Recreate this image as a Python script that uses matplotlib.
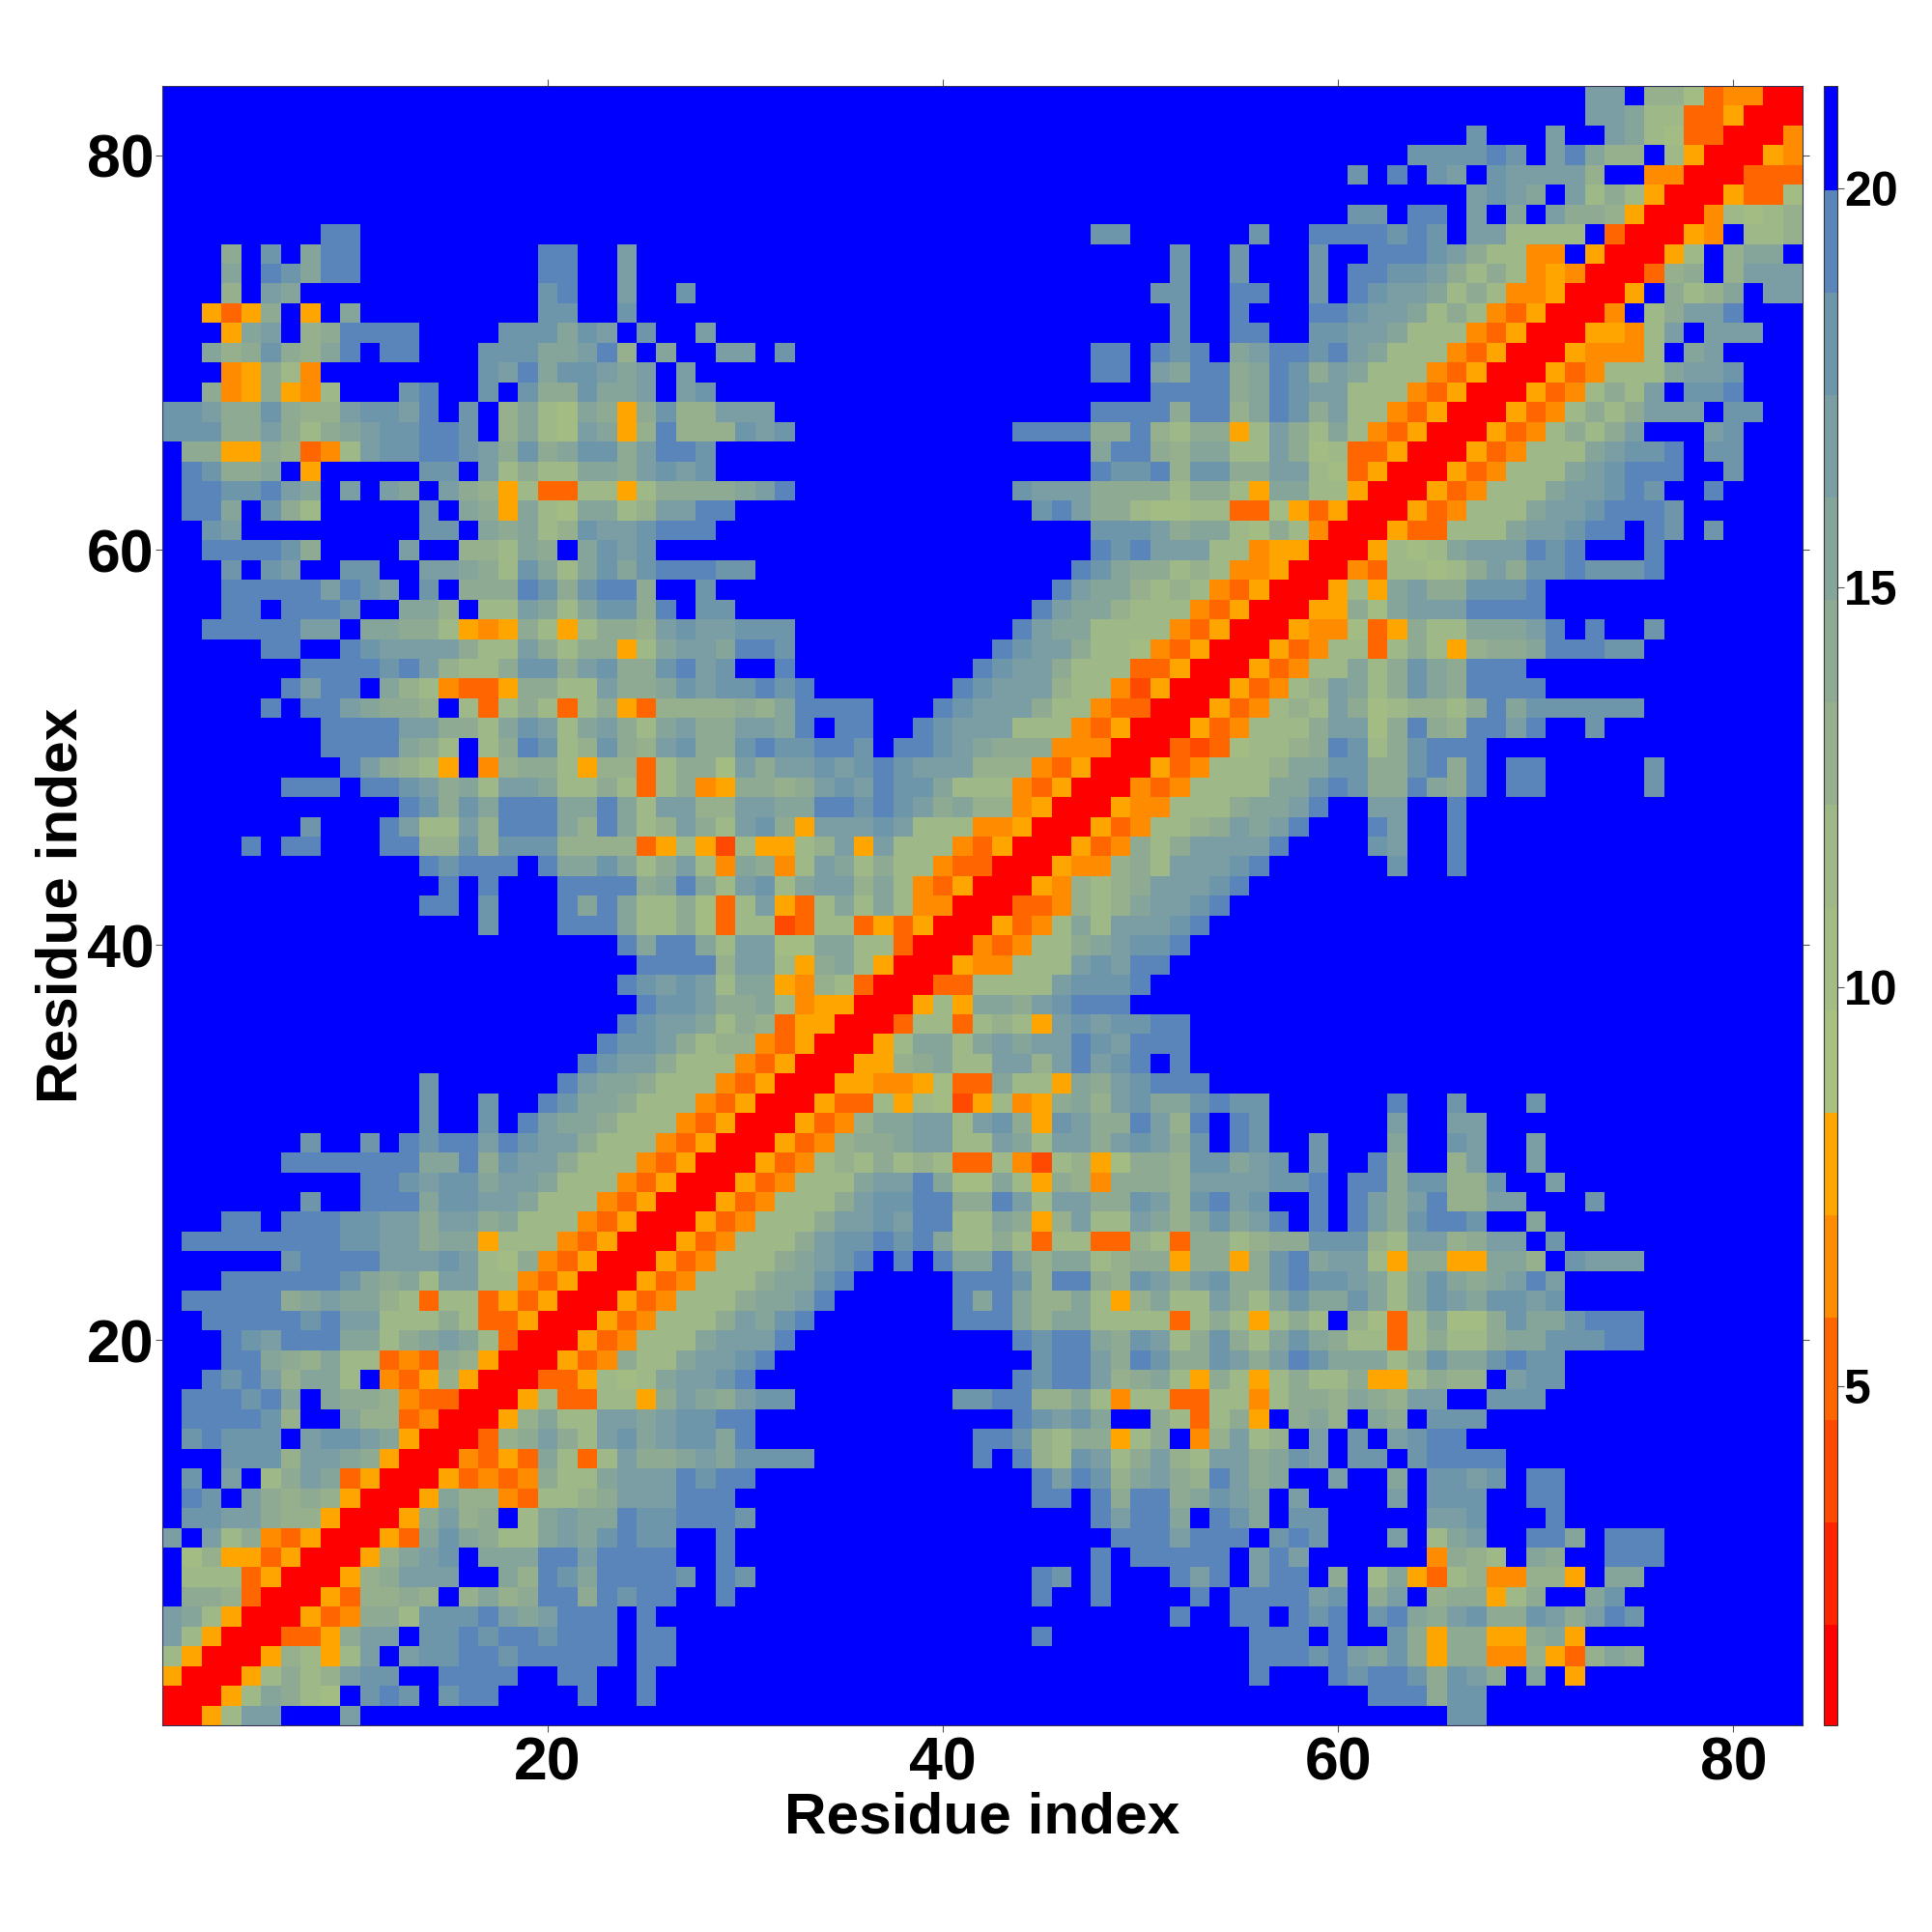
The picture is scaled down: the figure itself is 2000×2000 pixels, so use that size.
import numpy as np
import matplotlib
matplotlib.use("Agg")
import matplotlib.pyplot as plt
from matplotlib.colors import ListedColormap, BoundaryNorm

plt.rcParams['font.family'] = ['Liberation Sans', 'DejaVu Sans']
plt.rcParams['font.weight'] = 'bold'

N_RESIDUES = 83
DIST_MIN = 0.76
DIST_STEP = 1.2825
BAND_COLORS = ["#ff0000", "#ff2400", "#ff4800", "#ff6600", "#ff8c00", "#ffa500",
               "#a8c080", "#a3bc83", "#9fb887", "#96b08d", "#8eaa93", "#85a49a",
               "#7a9ea3", "#6d96ab", "#5a85bb", "#0000ff"]
X_TICKS = [20, 40, 60, 80]
Y_TICKS = [20, 40, 60, 80]
CBAR_TICKS = [5, 10, 15, 20]
AXIS_LABEL = "Residue index"

# Distance band per residue pair (hex digit = band index); row -> (first column, bands)
ROWS_TOP = {
    83: [(73, "ccf99734400")],
    82: [(73, "ccb8833500")],
    81: [(67, "d"), (71, "c"), (74, "cb873300")],
    80: [(64, "ddddedfceb99f8500")],
    79: [(61, "dfefdcfdcccc9ff4400")],
    78: [(67, "cdcbfc8a8500")],
    77: [(61, "ddfeefcfbfcaa9500")],
    76: [(9, "ee"), (48, "dd"), (56, "dffeeeededfcc8888f300")],
    75: [(4, "afdfbee"), (20, "ee"), (24, "c"), (52, "d"), (55, "d"), (59, "dffeeedca8844f500")],
    74: [(4, "bfedbee"), (20, "ee"), (24, "c"), (52, "d"), (55, "d"), (59, "dfeeddca8a845400")],
    73: [(4, "9fcb"), (20, "de"), (24, "c"), (27, "d"), (51, "dd"), (55, "ee"), (59, "dfedccb8a844500")],
    72: [(3, "535af5fb"), (20, "dd"), (24, "d"), (52, "d"), (55, "e"), (59, "eedccb8a843500")],
    71: [(4, "5bcf9aeeee"), (18, "dddbdcfd"), (28, "c"), (52, "d"), (55, "ee"), (59, "ddccb88843500")],
    70: [(3, "b9ada9befee"), (17, "dddbbce9fb"), (29, "ccfd"), (48, "ee"), (51, "edefbceedecb88843500")],
    69: [(4, "45a84"), (17, "dcebddcbcfc"), (48, "ee"), (51, "cbeeabedacb88843500")],
    68: [(3, "a45a548"), (13, "de"), (17, "dfdaadbbcfcd"), (51, "eeeeabedcc88843500")],
    67: [(1, "ddcaada99cddcefdf9b87ba5ad99ccc"), (48, "eeeeaee9bedac8843500")],
    66: [(1, "dddaaca8abcddeedf9b87cb59e999dcd"), (44, "eeeeaae98aa58ca8b843500")],
    65: [(2, "aa55a9348cddeedcadabddaceed"), (48, "beea9bb88ca7833500")],
    64: [(2, "edaabf5"), (14, "ddfc8a88bbacdcd"), (48, "edde9ddaacc873500")],
    63: [(2, "eeddecbfcfcbfca958338858aaaabce"), (44, "dcccaaaa8aa85bb88500")],
    62: [(2, "eebfda8"), (14, "d"), (16, "ba5b87bb89ccee"), (45, "decaa8778833753500")],
    61: [(3, "dc"), (14, "dd"), (17, "bab89dccdeee"), (48, "dddcabb87a8400")],
    60: [(3, "eeeeda"), (13, "c"), (16, "998bafbdcd"), (48, "edeccc8845500")],
    59: [(4, "dfdc"), (10, "dd"), (14, "ccba8db8bdbdeeedd"), (47, "edbaa89844500")],
    58: [(4, "eeeeecedc"), (14, "d"), (16, "aaaedadeea"), (28, "d"), (46, "ecbb989843500")],
    57: [(4, "eefeeed"), (13, "bb9f88cb8bddaefdd"), (45, "ecbb988843500")],
    56: [(3, "eeeeeccfbbaa8545a858aa9cdccddd"), (44, "ecbb888843500")],
}
ROWS_MIDDLE = {
    55: [(6, "eeffedcccca88ca8aa58bccbeed"), (43, "edcca88743500")],
    54: [(8, "eeeedec988addacdaadecd"), (32, "e"), (42, "edcca88833500")],
    53: [(7, "eceefb984335aa88caabdcddede"), (41, "edccc98842500")],
    52: [(6, "efeecbaa9f838a838a539999a9beeee"), (40, "edccca8843300")],
    51: [(9, "eeeeccaa8bdc8bca8bcaaccbefee"), (39, "edccc88843500")],
    50: [(9, "eeeeba8f8aed89da9cdaadeddeed"), (38, "eedcbaaa44400")],
    49: [(10, "eca985f49aa859938aa7caccdcdedccc99943500")],
    48: [(7, "eeefeedcab8ccb88a838a45aa9acdceddb88843500")],
    47: [(13, "edadbeeebbeb8cc99ccbbeededcab994500")],
    46: [(8, "d"), (12, "ec88c9eeeb9eb89ca8cda5cccdc88844500")],
    45: [(5, "e"), (7, "ee"), (12, "ee99d9ddd99993585285589c5c88843500")],
    44: [(14, "edeeefebbdb8ac84ba48cb8a8843300")],
    43: [(15, "efefffeeeeabeb8cd8bcc9b843500")],
    42: [(14, "eefdfffebeb88a738c538b8b84400")],
    41: [(17, "d"), (21, "eeeb88a73882388353500")],
    40: [(24, "ebeeb8cc77bb88300")],
    39: [(25, "eeee9cc85ab8500")],
    38: [(24, "edcdc8bb5498300")],
    37: [(25, "eddcaab845500")],
    36: [(24, "edccb8a935500")],
    35: [(23, "eddca89943500")],
    34: [(22, "edcca88843500")],
    33: [(14, "d"), (21, "ecbba88843500")],
    32: [(14, "d"), (17, "d"), (20, "edbba88843500")],
    31: [(14, "d"), (17, "d"), (19, "ecbba88843500")],
    30: [(8, "d"), (11, "d"), (13, "edeecedcca88843500")],
    29: [(7, "eeeeeeebbeadcca88843500")],
}
ROWS_BOTTOM = {
    28: [(11, "eedcddbccb88843500")],
    27: [(8, "d"), (11, "eeebddccb88843500")],
    26: [(4, "ee"), (7, "eeeddccaccab88843500")],
    25: [(2, "eeeeeeeeddccabb588843500")],
    24: [(7, "deeeecccdc87a43500")],
    23: [(4, "eeeeeedbab8cc8843500")],
    22: [(2, "eeeeeabcbb98388353500")],
    21: [(3, "eeeeedecc888a833500")],
    20: [(4, "edceeebb8abcb8300")],
    19: [(4, "eeba9b88343a9500")],
    18: [(3, "edec9bb8f4359500")],
    17: [(2, "eeedebfbaa943300")],
    16: [(2, "eeeed9ffb993400")],
    15: [(2, "dedddfcddcb500")],
    14: [(4, "ddd9ccba500")],
    13: [(2, "dfcf8acb3500")],
    12: [(2, "edfca9a9500")],
    11: [(2, "ddcca99500")],
    10: [(1, "cfc8a43500")],
    9: [(2, "79553500")],
    8: [(2, "8883500")],
    7: [(2, "aa9300")],
    6: [(1, "cb8500")],
    5: [(1, "c8500")],
    4: [(1, "8500")],
    3: [(1, "500")],
    2: [(1, "00")],
    1: [(1, "0")],
}

n_bands = len(BAND_COLORS)
bands = np.full((N_RESIDUES, N_RESIDUES), n_bands - 1, dtype=int)
for table in (ROWS_TOP, ROWS_MIDDLE, ROWS_BOTTOM):
    for row, segments in table.items():
        for first, digits in segments:
            for k, d in enumerate(digits):
                col = first + k
                bands[row - 1, col - 1] = int(d, 16)
                bands[col - 1, row - 1] = int(d, 16)
distance = DIST_MIN + (bands + 0.5) * DIST_STEP
edges = DIST_MIN + np.arange(n_bands + 1) * DIST_STEP

cmap = ListedColormap(BAND_COLORS)
norm = BoundaryNorm(edges, cmap.N)

fig = plt.figure(figsize=(20, 20), dpi=100, facecolor="white")
ax = fig.add_axes([168 / 2000, 1 - 1786 / 2000, (1866 - 168) / 2000, (1786 - 89) / 2000])
cax = fig.add_axes([1888 / 2000, 1 - 1786 / 2000, 14 / 2000, (1786 - 89) / 2000])

im = ax.imshow(distance, origin="lower", cmap=cmap, norm=norm, aspect="auto",
               interpolation="nearest", extent=(0.5, N_RESIDUES + 0.5, 0.5, N_RESIDUES + 0.5))
ax.set_xticks(X_TICKS)
ax.set_yticks(Y_TICKS)
ax.tick_params(axis="both", which="major", labelsize=45, length=5, width=0.8, color="#555555",
               top=True, right=True, bottom=True, left=True)
ax.tick_params(axis="x", pad=2.5)
ax.tick_params(axis="y", pad=1)
ax.set_xlabel(AXIS_LABEL, fontsize=43.5, fontweight="bold", labelpad=-1)
ax.set_ylabel(AXIS_LABEL, fontsize=43.5, fontweight="bold", labelpad=-1)
for spine in ax.spines.values():
    spine.set_linewidth(0.8)
    spine.set_color("#333355")

cb = fig.colorbar(im, cax=cax, ticks=CBAR_TICKS, spacing="proportional")
cb.solids.set_edgecolor("face")
cb.ax.minorticks_off()
cb.ax.tick_params(labelsize=36, length=5, width=0.8, color="#555555", pad=0)
for lab in cb.ax.get_yticklabels():
    lab.set_fontweight("bold")
cb.outline.set_linewidth(0.8)
cb.outline.set_edgecolor("#333333")

fig.savefig("out.png", dpi=100, facecolor="white")
